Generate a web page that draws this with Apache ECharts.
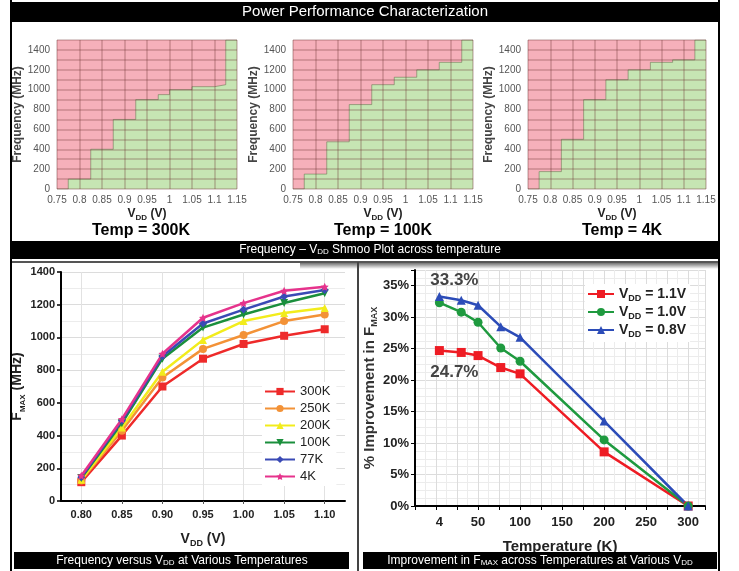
<!DOCTYPE html>
<html>
<head>
<meta charset="utf-8">
<script src="https://cdn.jsdelivr.net/npm/echarts@6/dist/echarts.min.js"></script>
<style>
html, body { margin: 0; padding: 0; background: #fff; }
#main { width: 739px; height: 571px; }
</style>
</head>
<body>
<div id="main"></div>
<script>
var FONT = '"Liberation Sans", Arial, sans-serif';

// shmoo plots: bin edges (V) and highest passing frequency (MHz) in each bin
var vdd300K = [0.75, 0.775, 0.825, 0.875, 0.925, 0.975, 1.0, 1.05, 1.1, 1.125, 1.15];
var pass300K = [0, 100, 400, 700, 900, 950, 1000, 1030, 1050, 1500];
var vdd100K = [0.75, 0.775, 0.825, 0.875, 0.925, 0.975, 1.025, 1.075, 1.125, 1.15];
var pass100K = [0, 150, 475, 850, 1050, 1125, 1200, 1275, 1500];
var vdd4K = [0.75, 0.775, 0.825, 0.875, 0.925, 0.975, 1.025, 1.075, 1.125, 1.15];
var pass4K = [0, 175, 500, 900, 1100, 1200, 1275, 1300, 1500];

// Fmax vs VDD
var vddLevels = [0.80, 0.85, 0.90, 0.95, 1.00, 1.05, 1.10];
var fmax300K = [115, 400, 700, 870, 960, 1010, 1050];
var fmax250K = [125, 430, 755, 930, 1015, 1100, 1140];
var fmax200K = [130, 450, 790, 985, 1100, 1150, 1180];
var fmax100K = [140, 475, 870, 1060, 1140, 1210, 1270];
var fmax77K = [145, 490, 885, 1085, 1170, 1250, 1290];
var fmax4K = [155, 500, 900, 1120, 1210, 1285, 1310];

// % improvement vs temperature
var tempK = [4, 30, 50, 77, 100, 200, 300];
var impr11 = [24.7, 24.4, 23.9, 22.0, 21.0, 8.6, 0];
var impr10 = [32.3, 30.8, 29.2, 25.1, 23.0, 10.5, 0];
var impr08 = [33.3, 32.7, 31.9, 28.5, 26.8, 13.5, 0];
var tempLabels = [4, 50, 100, 150, 200, 250, 300];

var subRich = {
	b: { fontSize: 12, fontWeight: 'bold', color: '#222', fontFamily: FONT, lineHeight: 16 },
	s: { fontSize: 8, fontWeight: 'bold', color: '#222', fontFamily: FONT, lineHeight: 9, verticalAlign: 'bottom' }
};

function stepData(edges, vals) {
	var d = [];
	for (var i = 0; i < vals.length; i++) {
		d.push([edges[i], vals[i]]);
	}
	d.push([edges[edges.length - 1], vals[vals.length - 1]]);
	return d;
}

var shmooGrids = [
	{ left: 57, top: 40, width: 180, height: 149 },
	{ left: 293, top: 40, width: 180, height: 149 },
	{ left: 528, top: 40, width: 178, height: 149 }
];
var shmooSets = [[vdd300K, pass300K], [vdd100K, pass100K], [vdd4K, pass4K]];

var grids = [], xAxes = [], yAxes = [], series = [];

shmooGrids.forEach(function(g, i) {
	grids.push({ left: g.left, top: g.top, width: g.width, height: g.height,
		show: true, backgroundColor: '#f6b0ba', borderWidth: 0 });
	xAxes.push({
		type: 'value', gridIndex: i, min: 0.75, max: 1.15, interval: 0.05, z: 5,
		axisLine: { show: false }, axisTick: { show: false },
		splitLine: { show: true, lineStyle: { color: 'rgba(110,50,50,0.32)', width: 1.5 } },
		axisLabel: { color: '#555', fontSize: 10, margin: 6, fontFamily: FONT,
			formatter: function(v) { return String(+v.toFixed(2)); } },
		name: '{b|V}{s|DD}{b| (V)}', nameLocation: 'middle', nameGap: 17,
		nameTextStyle: { rich: subRich }
	});
	yAxes.push({
		type: 'value', gridIndex: i, min: 0, max: 1500, interval: 100, z: 5,
		axisLine: { show: false }, axisTick: { show: false },
		splitLine: { show: true, lineStyle: { color: 'rgba(110,50,50,0.32)', width: 1.5 } },
		axisLabel: { color: '#555', fontSize: 10, margin: 7, fontFamily: FONT,
			formatter: function(v) { return (v % 200 === 0 && v <= 1400) ? String(v) : ''; } },
		name: 'Frequency (MHz)', nameLocation: 'middle', nameGap: 32,
		nameTextStyle: { fontSize: 12, fontWeight: 'bold', color: '#444', fontFamily: FONT }
	});
	series.push({
		type: 'line', xAxisIndex: i, yAxisIndex: i, step: 'end', symbol: 'none',
		data: stepData(shmooSets[i][0], shmooSets[i][1]),
		lineStyle: { width: 1, color: 'rgba(90,110,70,0.5)' },
		areaStyle: { color: '#c6e5b3', opacity: 1, origin: 'start' },
		silent: true, animation: false
	});
});

// Fmax vs VDD chart
grids.push({ left: 61, top: 272, width: 284, height: 229 });
xAxes.push({
	type: 'value', gridIndex: 3, min: 0.775, max: 1.125, interval: 0.025,
	axisLine: { onZero: false, lineStyle: { color: '#000', width: 2 } },
	axisTick: { customValues: vddLevels, length: 3, lineStyle: { color: '#555' } },
	splitLine: { show: true, lineStyle: { color: '#e2e2e2' } },
	axisLabel: { color: '#222', fontSize: 11, fontWeight: 'bold', fontFamily: FONT, margin: 8,
		customValues: vddLevels, formatter: function(v) { return v.toFixed(2); } },
	name: '{b|V}{s|DD}{b| (V)}', nameLocation: 'middle', nameGap: 29,
	nameTextStyle: { rich: {
		b: { fontSize: 14, fontWeight: 'bold', color: '#222', fontFamily: FONT, lineHeight: 18 },
		s: { fontSize: 9, fontWeight: 'bold', color: '#222', fontFamily: FONT, lineHeight: 10, verticalAlign: 'bottom' }
	} }
});
yAxes.push({
	type: 'value', gridIndex: 3, min: 0, max: 1400, interval: 200,
	axisLine: { show: true, onZero: false, lineStyle: { color: '#000', width: 2 } },
	axisTick: { show: true, length: 4, lineStyle: { color: '#000', width: 1.5 } },
	splitLine: { show: true, lineStyle: { color: '#dcdcdc' } },
	minorTick: { show: false, splitNumber: 2 },
	minorSplitLine: { show: true, lineStyle: { color: '#ececec' } },
	axisLabel: { color: '#222', fontSize: 11, fontWeight: 'bold', fontFamily: FONT, margin: 6,
		formatter: function(v) { return String(v); } },
	name: '{b|F}{s|MAX}{b| (MHz)}', nameLocation: 'middle', nameGap: 26,
	nameTextStyle: { rich: {
		b: { fontSize: 14, fontWeight: 'bold', color: '#222', fontFamily: FONT, lineHeight: 18 },
		s: { fontSize: 8, fontWeight: 'bold', color: '#222', fontFamily: FONT, lineHeight: 9, verticalAlign: 'bottom' }
	} }
});

var starPath = 'path://M0,-10 L2.9,-4 9.5,-3 4.7,1.5 5.9,8 0,5 -5.9,8 -4.7,1.5 -9.5,-3 -2.9,-4Z';
var fmaxDefs = [
	['300K', fmax300K, '#ee2a2a', 'rect', 0],
	['250K', fmax250K, '#f39237', 'circle', 0],
	['200K', fmax200K, '#f2ec1c', 'triangle', 0],
	['100K', fmax100K, '#1a8f3c', 'triangle', 180],
	['77K', fmax77K, '#3a4ab5', 'diamond', 0],
	['4K', fmax4K, '#e6338c', starPath, 0]
];
fmaxDefs.forEach(function(d) {
	series.push({
		name: d[0], type: 'line', xAxisIndex: 3, yAxisIndex: 3,
		data: vddLevels.map(function(v, k) { return [v, d[1][k]]; }),
		symbol: d[3], symbolRotate: d[4], symbolSize: 8,
		lineStyle: { color: d[2], width: 2.5 }, itemStyle: { color: d[2] },
		animation: false
	});
});

// improvement chart
grids.push({ left: 415, top: 270, width: 290, height: 236 });
xAxes.push({
	type: 'value', gridIndex: 4, min: -25, max: 320, interval: 25,
	axisLine: { onZero: false, lineStyle: { color: '#000', width: 2 } },
	axisTick: { length: 4, lineStyle: { color: '#000' } },
	splitLine: { show: true, lineStyle: { color: '#dcdcdc' } },
	minorTick: { show: false, splitNumber: 2 },
	minorSplitLine: { show: true, lineStyle: { color: '#ececec' } },
	axisLabel: { color: '#222', fontSize: 13, fontWeight: 'bold', fontFamily: FONT, margin: 10,
		customValues: tempLabels },
	name: 'Temperature (K)', nameLocation: 'middle', nameGap: 33,
	nameTextStyle: { fontSize: 15, fontWeight: 'bold', color: '#222', fontFamily: FONT }
});
yAxes.push({
	type: 'value', gridIndex: 4, min: 0, max: 37.5, interval: 5,
	axisLine: { show: true, onZero: false, lineStyle: { color: '#000', width: 2 } },
	axisTick: { show: true, length: 4, lineStyle: { color: '#000' } },
	splitLine: { show: true, lineStyle: { color: '#dcdcdc' } },
	minorTick: { show: false, splitNumber: 4 },
	minorSplitLine: { show: true, lineStyle: { color: '#ececec' } },
	axisLabel: { color: '#222', fontSize: 13, fontWeight: 'bold', fontFamily: FONT, margin: 6,
		formatter: function(v) { return v % 5 === 0 ? v + '%' : ''; } },
	name: '{b|% Improvement in F}{s|MAX}', nameLocation: 'middle', nameGap: 36,
	nameTextStyle: { rich: {
		b: { fontSize: 15, fontWeight: 'bold', color: '#333', fontFamily: FONT, lineHeight: 18 },
		s: { fontSize: 9, fontWeight: 'bold', color: '#333', fontFamily: FONT, lineHeight: 10, verticalAlign: 'bottom' }
	} }
});

var imprDefs = [
	['VDD = 1.1V', impr11, '#ee1c24', 'rect', { show: true, position: 'bottom', offset: [15, 4] }],
	['VDD = 1.0V', impr10, '#1f9a3f', 'circle', null],
	['VDD = 0.8V', impr08, '#2c4cb8', 'triangle', { show: true, position: 'top', offset: [15, 2] }]
];
imprDefs.forEach(function(d) {
	series.push({
		name: d[0], type: 'line', xAxisIndex: 4, yAxisIndex: 4,
		data: tempK.map(function(t, k) {
			var p = { value: [t, d[1][k]] };
			if (k === 0 && d[4]) {
				p.label = Object.assign({ formatter: function(q) { return q.value[1].toFixed(1) + '%'; },
					fontSize: 17, fontWeight: 'bold', color: '#444', fontFamily: FONT }, d[4]);
			}
			return p;
		}),
		symbol: d[3], symbolSize: 9,
		lineStyle: { color: d[2], width: 2.5 }, itemStyle: { color: d[2] },
		animation: false
	});
});

function bar(x, y, w, h, text, cx, size) {
	return [
		{ type: 'rect', shape: { x: x, y: y, width: w, height: h }, style: { fill: '#000' }, z: 10 },
		{ type: 'text', x: cx, y: y + h / 2, z: 11, style: {
			text: text, fill: '#fff', align: 'center', verticalAlign: 'middle',
			fontSize: size, fontFamily: FONT,
			rich: {
				w: { fill: '#fff', fontSize: size, fontFamily: FONT },
				s: { fill: '#fff', fontSize: size - 4, fontFamily: FONT, verticalAlign: 'bottom', lineHeight: size - 4 }
			}
		} }
	];
}

function tempText(cx, t) {
	return { type: 'text', x: cx, y: 231, z: 11, style: {
		text: t, fill: '#000', align: 'center', verticalAlign: 'middle',
		fontSize: 16, fontWeight: 'bold', fontFamily: FONT } };
}

var graphics = [].concat(
	bar(12, 2, 706, 20, 'Power Performance Characterization', 365, 15),
	bar(12, 241, 706, 18, '{w|Frequency – V}{s|DD}{w| Shmoo Plot across temperature}', 370, 12),
	bar(14, 552, 335, 17, '{w|Frequency versus V}{s|DD}{w| at Various Temperatures}', 182, 12),
	bar(363, 552, 354, 17, '{w|Improvement in F}{s|MAX}{w| across Temperatures at Various V}{s|DD}', 540, 12),
	[
		tempText(141, 'Temp = 300K'),
		tempText(383, 'Temp = 100K'),
		tempText(622, 'Temp = 4K'),
		{ type: 'line', shape: { x1: 11, y1: 0, x2: 11, y2: 571 }, style: { stroke: '#000', lineWidth: 2 }, z: 12 },
		{ type: 'line', shape: { x1: 719, y1: 0, x2: 719, y2: 571 }, style: { stroke: '#000', lineWidth: 2 }, z: 12 },
		{ type: 'line', shape: { x1: 12, y1: 262, x2: 718, y2: 262 }, style: { stroke: '#555', lineWidth: 2 }, z: 12 },
		{ type: 'line', shape: { x1: 358, y1: 262, x2: 358, y2: 571 }, style: { stroke: '#444', lineWidth: 2 }, z: 12 },
		{ type: 'rect', shape: { x: 300, y: 263, width: 418, height: 6 }, z: 9,
			style: { fill: new echarts.graphic.LinearGradient(0, 0, 0, 1, [
				{ offset: 0, color: 'rgba(0,0,0,0.55)' }, { offset: 1, color: 'rgba(0,0,0,0)' }]) } }
	]
);

var chart = echarts.init(document.getElementById('main'));
chart.setOption({
	backgroundColor: '#fff',
	animation: false,
	textStyle: { fontFamily: FONT },
	grid: grids,
	xAxis: xAxes,
	yAxis: yAxes,
	legend: [{
		data: ['300K', '250K', '200K', '100K', '77K', '4K'],
		orient: 'vertical', left: 262, top: 382, itemWidth: 30, itemHeight: 9, itemGap: 4,
		backgroundColor: '#fff', padding: [3, 6, 3, 2],
		textStyle: { fontSize: 13, color: '#222', fontFamily: FONT }
	}, {
		data: ['VDD = 1.1V', 'VDD = 1.0V', 'VDD = 0.8V'],
		orient: 'vertical', left: 585, top: 284, itemWidth: 26, itemHeight: 10, itemGap: 2,
		backgroundColor: '#fff', padding: [3, 4, 3, 2],
		formatter: function(name) { return '{b|V}{s|DD}{b|' + name.slice(3) + '}'; },
		textStyle: { rich: {
			b: { fontSize: 14, fontWeight: 'bold', color: '#222', fontFamily: FONT, lineHeight: 18 },
			s: { fontSize: 9, fontWeight: 'bold', color: '#222', fontFamily: FONT, lineHeight: 10, verticalAlign: 'bottom' }
		} }
	}],
	series: series,
	graphic: graphics
});
</script>
</body>
</html>
